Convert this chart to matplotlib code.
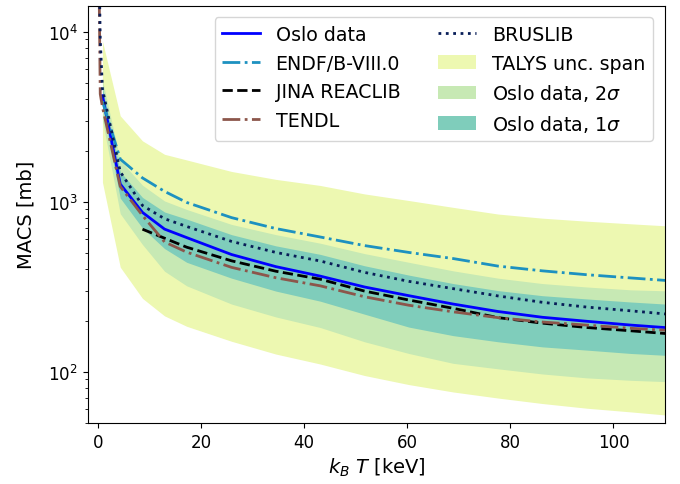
import matplotlib
matplotlib.use('Agg')
import matplotlib.pyplot as plt

# kT grid [keV]
KT_OSLO = [0.86, 4.31, 8.62, 12.9, 17.2, 25.9, 34.5, 43.1, 51.7, 60.3, 68.9, 77.6, 86.2, 94.8, 103.4, 112.0]
OSLO = [4200, 1270, 865, 690, 615, 489, 415, 365, 315, 280, 250, 226, 209, 198, 188, 180]
OSLO_1S_HI = [4700, 1500, 1060, 870, 790, 640, 550, 490, 420, 370, 330, 300, 280, 268, 257, 248]
OSLO_1S_LO = [3600, 1050, 700, 530, 440, 355, 298, 260, 218, 183, 163, 150, 140, 134, 128, 124]
OSLO_2S_HI = [5200, 1750, 1250, 1010, 900, 735, 640, 570, 495, 440, 392, 355, 330, 315, 303, 298]
OSLO_2S_LO = [3000, 850, 560, 390, 320, 250, 210, 182, 150, 128, 112, 104, 97, 92, 89, 87]
TALYS_HI = [8800, 3200, 2280, 1900, 1760, 1506, 1353, 1246, 1111, 1016, 926, 846, 800, 768, 741, 716]
TALYS_LO = [1300, 412, 270, 213, 185, 151, 127, 111, 95, 84, 76, 70, 65, 61, 58, 55]

ENDF = [3900, 1780, 1380, 1150, 990, 806, 695, 620, 552, 503, 463, 418, 392, 372, 356, 341]

KT_LIB = [0.09, 0.43, 0.86, 4.31, 8.62, 12.9, 17.2, 25.9, 34.5, 43.1, 51.7, 60.3, 68.9, 77.6, 86.2, 94.8, 103.4, 112.0]
BRUSLIB = [40000, 9000, 4600, 1500, 950, 794, 715, 584, 503, 448, 384, 340, 308, 279, 256, 240, 228, 216]
TENDL = [40000, 4300, 3600, 1230, 830, 580, 505, 411, 357, 320, 276, 246, 225, 208, 196, 188, 180, 174]

KT_JINA = [8.62, 12.9, 17.2, 25.9, 34.5, 43.1, 51.7, 60.3, 68.9, 77.6, 86.2, 94.8, 103.4, 112.0]
JINA = [689, 610, 540, 449, 390, 350, 298, 264, 236, 208, 193, 182, 174, 166]

fig = plt.figure(figsize=(6.8, 4.85), dpi=100)
ax = fig.add_axes([0.129, 0.126, 0.849, 0.86])

ax.fill_between(KT_OSLO, TALYS_LO, TALYS_HI, color='#edf8b1', lw=0, label='TALYS unc. span')
ax.fill_between(KT_OSLO, OSLO_2S_LO, OSLO_2S_HI, color='#c7e9b4', lw=0, label=r'Oslo data, 2$\sigma$')
ax.fill_between(KT_OSLO, OSLO_1S_LO, OSLO_1S_HI, color='#7fcdbb', lw=0, label=r'Oslo data, 1$\sigma$')

ax.plot(KT_OSLO, OSLO, color='blue', lw=2, label='Oslo data')
ax.plot(KT_OSLO, ENDF, color='#1d91c0', lw=2, ls='-.', label='ENDF/B-VIII.0')
ax.plot(KT_JINA, JINA, color='black', lw=2, ls='--', label='JINA REACLIB')
ax.plot(KT_LIB, TENDL, color='#8c564b', lw=2, ls='-.', label='TENDL')
ax.plot(KT_LIB, BRUSLIB, color='#081d58', lw=2, ls=':', label='BRUSLIB')

ax.set_yscale('log')
ax.set_xlim(-2, 110)
ax.set_ylim(50, 14200)
ax.set_xlabel(r'$k_B$ $T$ [keV]', fontsize=14)
ax.set_ylabel('MACS [mb]', fontsize=14, labelpad=9)
ax.tick_params(labelsize=12)

handles, labels = ax.get_legend_handles_labels()
order = ['Oslo data', 'ENDF/B-VIII.0', 'JINA REACLIB', 'TENDL', 'BRUSLIB',
         'TALYS unc. span', r'Oslo data, 2$\sigma$', r'Oslo data, 1$\sigma$']
hmap = dict(zip(labels, handles))
ax.legend([hmap[k] for k in order], order, ncol=2, loc='upper right', fontsize=13.7,
          bbox_to_anchor=(0.995, 0.995))

fig.savefig('out.png', dpi=100)
